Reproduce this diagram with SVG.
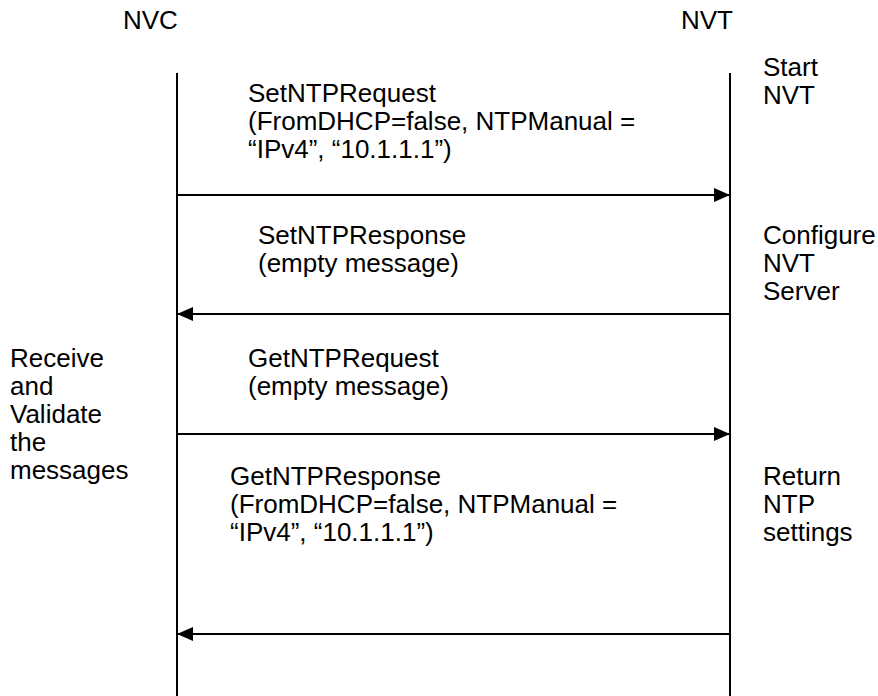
<svg xmlns="http://www.w3.org/2000/svg" width="878" height="696" viewBox="0 0 878 696">
<style>
text{font-family:"Liberation Sans",Arial,sans-serif;font-size:26px;fill:#000}
.life{stroke:#000;stroke-width:2;fill:none}
.msg{stroke:#000;stroke-width:2;fill:none}
</style>
<defs>
<marker id="ah" viewBox="0 0 16 14" refX="16" refY="7" markerWidth="16" markerHeight="14" markerUnits="userSpaceOnUse" orient="auto">
<path d="M0,0 L16,7 L0,14 Z" fill="#000"/>
</marker>
</defs>
<rect width="878" height="696" fill="#fff"/>
<g id="nvc">
<text x="123" y="29">NVC</text>
<line class="life" x1="177" y1="73" x2="177" y2="696"/>
<text x="10" y="367">Receive</text>
<text x="10" y="395">and</text>
<text x="10" y="423">Validate</text>
<text x="10" y="451">the</text>
<text x="10" y="479">messages</text>
</g>
<g id="nvt">
<text x="681" y="29">NVT</text>
<line class="life" x1="730" y1="73" x2="730" y2="696"/>
<text x="763" y="76">Start</text>
<text x="763" y="104">NVT</text>
<text x="763" y="244">Configure</text>
<text x="763" y="272">NVT</text>
<text x="763" y="300">Server</text>
<text x="763" y="485">Return</text>
<text x="763" y="513">NTP</text>
<text x="763" y="541">settings</text>
</g>
<g id="connectors">
<line class="msg" x1="177" y1="195" x2="730" y2="195" marker-end="url(#ah)"/>
<line class="msg" x1="730" y1="314" x2="177" y2="314" marker-end="url(#ah)"/>
<line class="msg" x1="177" y1="434" x2="730" y2="434" marker-end="url(#ah)"/>
<line class="msg" x1="730" y1="634" x2="177" y2="634" marker-end="url(#ah)"/>
</g>
<g id="labels">
<text x="248" y="102">SetNTPRequest</text>
<text x="248" y="130">(FromDHCP=false, NTPManual =</text>
<text x="248" y="158">“IPv4”, “10.1.1.1”)</text>
<text x="258" y="244">SetNTPResponse</text>
<text x="258" y="272">(empty message)</text>
<text x="248" y="367">GetNTPRequest</text>
<text x="248" y="395">(empty message)</text>
<text x="230" y="485">GetNTPResponse</text>
<text x="230" y="513">(FromDHCP=false, NTPManual =</text>
<text x="230" y="541">“IPv4”, “10.1.1.1”)</text>
</g>
</svg>
